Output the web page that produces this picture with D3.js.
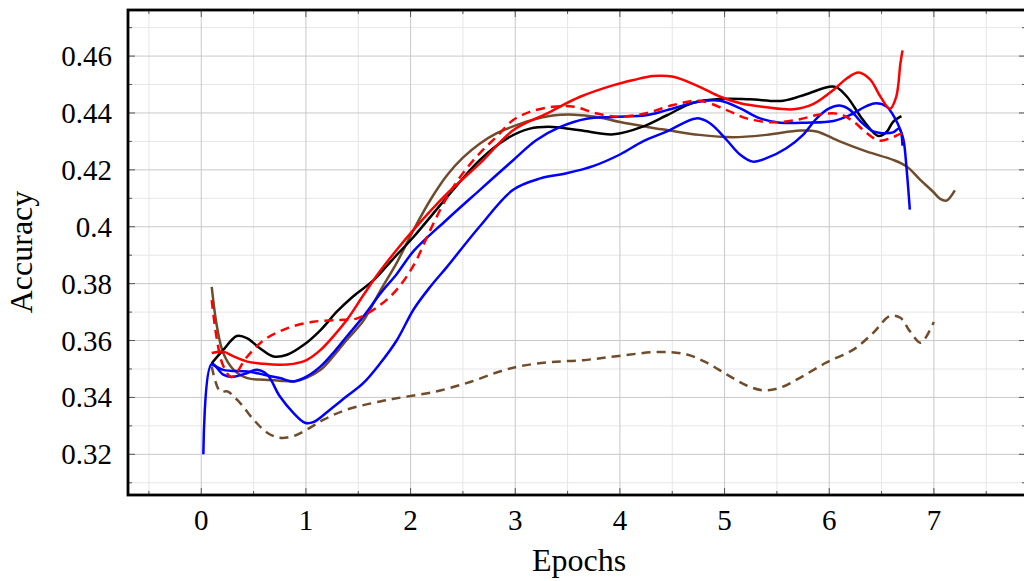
<!DOCTYPE html>
<html>
<head>
<meta charset="utf-8">
<script src="https://cdn.jsdelivr.net/npm/d3@7"></script>
<style>
  html, body { margin: 0; padding: 0; background: #ffffff; }
  svg { display: block; }
  text { font-family: "Liberation Serif", "Times New Roman", serif; fill: #000; }
</style>
</head>
<body>
<svg id="chart" width="1024" height="581"></svg>
<script>
// ---- tick values / labels ----
const xTicks = [0, 1, 2, 3, 4, 5, 6, 7];
const xTickLabels = ["0", "1", "2", "3", "4", "5", "6", "7"];
const yTicks = [0.32, 0.34, 0.36, 0.38, 0.40, 0.42, 0.44, 0.46];
const yTickLabels = ["0.32", "0.34", "0.36", "0.38", "0.4", "0.42", "0.44", "0.46"];
const xLabel = "Epochs";
const yLabel = "Accuracy";

// ---- series (epoch, accuracy) ----
const redSolidEpochs = [0.1,0.21,0.31,0.44,0.6,0.75,0.88,1.01,1.14,1.26,1.39,1.55,1.71,1.87,2.03,2.35,2.66,2.98,3.3,3.62,3.94,4.13,4.32,4.51,4.76,4.96,5.15,5.4,5.66,5.85,6.04,6.17,6.28,6.39,6.49,6.58,6.64,6.68,6.7];
const redSolidAcc = [0.3556,0.3561,0.3544,0.3526,0.3518,0.3515,0.3518,0.3532,0.3567,0.3614,0.3672,0.376,0.3845,0.392,0.399,0.4117,0.4222,0.4339,0.4398,0.4457,0.4498,0.4516,0.453,0.4527,0.4492,0.4457,0.4434,0.442,0.4413,0.4432,0.4481,0.4522,0.4542,0.4518,0.4457,0.4415,0.4457,0.4574,0.462];

const redDashedEpochs = [0.1,0.2,0.29,0.44,0.6,0.82,1.07,1.3,1.49,1.71,1.87,2.03,2.19,2.35,2.5,2.66,2.82,2.98,3.14,3.36,3.56,3.78,4.0,4.25,4.51,4.76,5.02,5.21,5.46,5.72,5.91,6.1,6.23,6.36,6.48,6.61,6.69,6.71];
const redDashedAcc = [0.3742,0.352,0.3472,0.3544,0.3602,0.3643,0.3666,0.3672,0.3678,0.3725,0.378,0.3865,0.399,0.4105,0.4188,0.4258,0.4316,0.4375,0.4404,0.4422,0.4422,0.4398,0.4387,0.4399,0.4428,0.4443,0.441,0.4381,0.4367,0.4378,0.4395,0.4396,0.437,0.4329,0.4303,0.4315,0.4326,0.430];

const blackEpochs = [0.1,0.21,0.34,0.44,0.56,0.69,0.82,0.98,1.14,1.3,1.45,1.65,1.84,2.03,2.35,2.66,2.92,3.14,3.36,3.62,3.94,4.22,4.45,4.7,4.96,5.24,5.56,5.78,6.0,6.07,6.17,6.3,6.4,6.47,6.55,6.61,6.69];
const blackAcc = [0.352,0.3567,0.3616,0.3608,0.3573,0.3544,0.355,0.3585,0.3637,0.3703,0.3755,0.3813,0.389,0.3965,0.4105,0.4234,0.431,0.4345,0.4351,0.4339,0.4325,0.4352,0.4392,0.4436,0.4449,0.4448,0.4443,0.4466,0.4492,0.449,0.4457,0.4387,0.434,0.4319,0.4334,0.4369,0.4389];

const blueUpperEpochs = [0.1,0.21,0.44,0.6,0.75,0.88,1.01,1.14,1.26,1.39,1.55,1.71,1.87,2.03,2.34,2.66,2.98,3.2,3.43,3.68,3.94,4.25,4.45,4.76,4.96,5.15,5.34,5.53,5.78,6.04,6.2,6.36,6.45,6.55,6.63,6.68,6.71,6.74,6.77];
const blueUpperAcc = [0.3518,0.3497,0.3491,0.348,0.3468,0.3456,0.3474,0.3509,0.3556,0.3614,0.3685,0.3765,0.3835,0.3915,0.4023,0.4129,0.4234,0.4304,0.4351,0.438,0.4386,0.4392,0.441,0.444,0.4443,0.4416,0.4381,0.4366,0.4366,0.4372,0.4393,0.4425,0.4434,0.4422,0.438,0.434,0.4305,0.42,0.406];

const blueLowerEpochs = [0.02,0.1,0.21,0.29,0.44,0.53,0.63,0.75,0.88,0.99,1.07,1.23,1.39,1.55,1.71,1.87,2.03,2.19,2.35,2.66,2.98,3.24,3.49,3.75,4.0,4.22,4.45,4.73,4.86,5.02,5.15,5.27,5.4,5.59,5.75,5.88,6.0,6.1,6.2,6.3,6.42,6.52,6.61,6.67,6.7];
const blueLowerAcc = [0.320,0.3518,0.348,0.3472,0.3486,0.3497,0.348,0.3404,0.3346,0.3311,0.3313,0.3357,0.3404,0.3451,0.352,0.3602,0.371,0.379,0.386,0.4001,0.413,0.417,0.4188,0.4214,0.4254,0.43,0.4335,0.4381,0.4364,0.4305,0.4253,0.4229,0.4241,0.4276,0.4323,0.4381,0.4416,0.4426,0.441,0.437,0.4335,0.4329,0.4332,0.4345,0.4285];

const brownSolidEpochs = [0.1,0.15,0.21,0.31,0.44,0.6,0.75,0.88,1.01,1.14,1.26,1.39,1.55,1.71,1.87,2.03,2.19,2.35,2.5,2.66,2.82,2.98,3.14,3.36,3.56,3.78,4.0,4.26,4.45,4.76,5.08,5.4,5.72,5.88,6.1,6.36,6.61,6.74,6.87,6.99,7.06,7.12,7.2];
const brownSolidAcc = [0.3789,0.3649,0.3556,0.3497,0.3468,0.3462,0.3459,0.3456,0.347,0.3497,0.3544,0.3602,0.367,0.3775,0.3875,0.399,0.4095,0.4182,0.4243,0.4292,0.4328,0.4353,0.4373,0.4391,0.4394,0.4386,0.4368,0.4351,0.434,0.4323,0.4315,0.4323,0.4338,0.4335,0.43,0.4264,0.4235,0.4212,0.4165,0.4124,0.4098,0.4092,0.4128];

const brownDashedEpochs = [0.1,0.18,0.25,0.37,0.5,0.63,0.75,0.88,1.01,1.17,1.39,1.71,1.93,2.22,2.54,2.86,3.05,3.33,3.65,3.97,4.38,4.64,4.83,5.02,5.21,5.37,5.53,5.72,5.97,6.23,6.42,6.58,6.68,6.77,6.87,6.91,7.0];
const brownDashedAcc = [0.3509,0.3421,0.3421,0.3381,0.3322,0.3276,0.3258,0.3264,0.3287,0.3322,0.3357,0.3386,0.3401,0.3419,0.3451,0.3492,0.351,0.3524,0.3531,0.3545,0.356,0.3551,0.3522,0.3481,0.3442,0.3425,0.3434,0.3469,0.3522,0.3568,0.3627,0.3686,0.368,0.3633,0.3592,0.3604,0.3665];

// ---- layout ----
const svg = d3.select("#chart");
const mLeft = 128, mRight = 1026, mTop = 10, mBottom = 495;
const x = d3.scaleLinear().domain([-0.7, 7.88]).range([mLeft, mRight]);
const y = d3.scaleLinear().domain([0.3057, 0.4762]).range([mBottom, mTop]);

const BROWN = "#6f4c2b";
const series = [
  { ex: brownDashedEpochs, acc: brownDashedAcc, color: BROWN, dash: "9,6" },
  { ex: brownSolidEpochs, acc: brownSolidAcc, color: BROWN, dash: null },
  { ex: blackEpochs, acc: blackAcc, color: "#000000", dash: null },
  { ex: blueLowerEpochs, acc: blueLowerAcc, color: "#0000ff", dash: null },
  { ex: blueUpperEpochs, acc: blueUpperAcc, color: "#0000ff", dash: null },
  { ex: redDashedEpochs, acc: redDashedAcc, color: "#ff0000", dash: "9,6" },
  { ex: redSolidEpochs, acc: redSolidAcc, color: "#ff0000", dash: null }
];

// grid
const g = svg.append("g");
const xMinor = d3.range(-0.5, 7.9, 0.5).filter(v => Math.abs(v - Math.round(v)) > 0.01);
const yMinor = d3.range(0.31, 0.475, 0.01).map(v => +v.toFixed(2)).filter(v => !yTicks.some(t => Math.abs(t - v) < 1e-6));

g.selectAll(".xminor").data(xMinor).join("line")
  .attr("x1", d => x(d)).attr("x2", d => x(d)).attr("y1", mTop).attr("y2", mBottom)
  .attr("stroke", "#e6e6e6").attr("stroke-width", 1);
g.selectAll(".yminor").data(yMinor).join("line")
  .attr("x1", mLeft).attr("x2", mRight).attr("y1", d => y(d)).attr("y2", d => y(d))
  .attr("stroke", "#e6e6e6").attr("stroke-width", 1);
g.selectAll(".xmajor").data(xTicks).join("line")
  .attr("x1", d => x(d)).attr("x2", d => x(d)).attr("y1", mTop).attr("y2", mBottom)
  .attr("stroke", "#c8c8c8").attr("stroke-width", 1);
g.selectAll(".ymajor").data(yTicks).join("line")
  .attr("x1", mLeft).attr("x2", mRight).attr("y1", d => y(d)).attr("y2", d => y(d))
  .attr("stroke", "#c8c8c8").attr("stroke-width", 1);

// ticks (inward, all four sides)
const tk = svg.append("g").attr("stroke", "#555").attr("stroke-width", 1);
const xTickAll = xTicks.map(v => ({ v, len: 7 })).concat(xMinor.map(v => ({ v, len: 4 })));
const yTickAll = yTicks.map(v => ({ v, len: 7 })).concat(yMinor.map(v => ({ v, len: 4 })));
xTickAll.forEach(t => {
  tk.append("line").attr("x1", x(t.v)).attr("x2", x(t.v)).attr("y1", mBottom).attr("y2", mBottom - t.len);
  tk.append("line").attr("x1", x(t.v)).attr("x2", x(t.v)).attr("y1", mTop).attr("y2", mTop + t.len);
});
yTickAll.forEach(t => {
  tk.append("line").attr("x1", mLeft).attr("x2", mLeft + t.len).attr("y1", y(t.v)).attr("y2", y(t.v));
  tk.append("line").attr("x1", mRight).attr("x2", mRight - t.len).attr("y1", y(t.v)).attr("y2", y(t.v));
});

// lines
svg.append("clipPath").attr("id", "clip").append("rect")
  .attr("x", mLeft).attr("y", mTop).attr("width", mRight - mLeft).attr("height", mBottom - mTop);
const lineGen = d3.line().x(d => x(d[0])).y(d => y(d[1])).curve(d3.curveCatmullRom.alpha(0.5));
const lg = svg.append("g").attr("clip-path", "url(#clip)");
series.forEach(s => {
  const pts = s.ex.map((e, i) => [e, s.acc[i]]);
  lg.append("path").datum(pts).attr("d", lineGen)
    .attr("fill", "none").attr("stroke", s.color).attr("stroke-width", 2.5)
    .attr("stroke-linejoin", "round")
    .attr("stroke-dasharray", s.dash);
});

// frame
svg.append("rect").attr("x", mLeft).attr("y", mTop).attr("width", mRight - mLeft).attr("height", mBottom - mTop)
  .attr("fill", "none").attr("stroke", "#000").attr("stroke-width", 2.8);

// tick labels
svg.selectAll(".xl").data(xTicks).join("text")
  .attr("x", d => x(d)).attr("y", 530).attr("text-anchor", "middle")
  .style("font-size", "29px").text((d, i) => xTickLabels[i]);
svg.selectAll(".yl").data(yTicks).join("text")
  .attr("x", 112).attr("y", d => y(d) + 10).attr("text-anchor", "end")
  .style("font-size", "29px").text((d, i) => yTickLabels[i]);

// axis labels
svg.append("text").attr("x", 579).attr("y", 571).attr("text-anchor", "middle")
  .style("font-size", "32px").text(xLabel);
svg.append("text").attr("transform", "translate(32,252) rotate(-90)").attr("text-anchor", "middle")
  .style("font-size", "32px").text(yLabel);
</script>
</body>
</html>
